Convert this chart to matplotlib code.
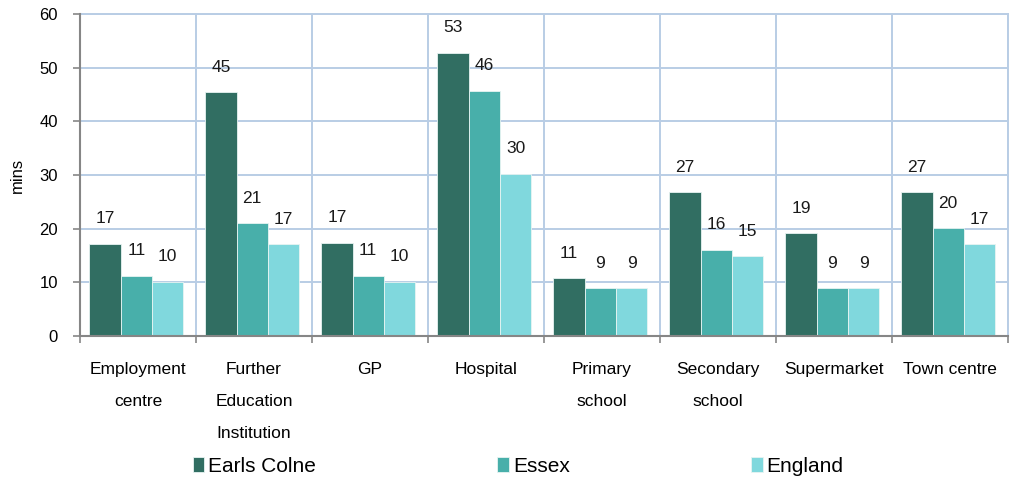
import numpy as np
import matplotlib.pyplot as plt

categories = ["Employment\ncentre", "Further\nEducation\nInstitution", "GP", "Hospital",
              "Primary\nschool", "Secondary\nschool", "Supermarket", "Town centre"]
earls_colne = [17.2, 45.4, 17.4, 52.8, 10.8, 26.8, 19.1, 26.8]
essex = [11.2, 21.0, 11.2, 45.7, 8.9, 16.1, 8.9, 20.1]
england = [10.1, 17.1, 10.1, 30.2, 8.9, 14.9, 8.9, 17.1]
series_names = ["Earls Colne", "Essex", "England"]
colors = ["#316E62", "#48AFAA", "#80D8DD"]

grid_color = "#B9CDE5"
axis_color = "#868686"

plt.rcParams['font.family'] = ['Liberation Sans', 'DejaVu Sans']

fig = plt.figure(figsize=(10.14, 4.78), dpi=100)
ax = fig.add_axes([0.0789, 0.297, 0.9151, 0.674])

x = np.arange(len(categories))
width = 0.27
bars = []
for i, (vals, name, col) in enumerate(zip([earls_colne, essex, england], series_names, colors)):
    pos = x + (i - 1) * width - 0.015
    b = ax.bar(pos, vals, width, color=col, label=name,
               edgecolor="#E8F4F2", linewidth=0.6, zorder=3)
    bars.append(b)
    for xi, v in zip(pos, vals):
        ax.annotate(f"{v:.0f}", (xi, v), xytext=(0, 18), textcoords="offset points",
                    ha="center", va="center", fontsize=12.5, color="#1a1a1a")

ax.set_xlim(-0.5, len(categories) - 0.5)
ax.set_ylim(0, 60)
ax.set_yticks(range(0, 61, 10))
ax.set_xticks(x)
ax.set_xticklabels(categories, fontsize=12.5, va="top")
for lbl in ax.get_xticklabels():
    lbl.set_linespacing(2.4)
ax.set_xticks(np.arange(-0.5, len(categories)), minor=True)
ax.tick_params(axis="x", which="major", length=0, pad=19)
ax.tick_params(axis="x", which="minor", length=5, color=axis_color, width=1.2, direction="out")
ax.tick_params(axis="y", length=5, color=axis_color, width=1.2, labelsize=12, pad=11)

ax.grid(True, axis="y", color=grid_color, linewidth=1.4, zorder=0)
ax.grid(True, axis="x", which="minor", color=grid_color, linewidth=1.4, zorder=0)
ax.set_axisbelow(True)

for side in ["left", "bottom"]:
    ax.spines[side].set_color(axis_color)
    ax.spines[side].set_linewidth(1.5)
    ax.spines[side].set_zorder(4)
for side in ["top", "right"]:
    ax.spines[side].set_color(grid_color)
    ax.spines[side].set_linewidth(1.4)

ax.set_ylabel("mins", fontsize=12, labelpad=10)

fig.legend(handles=bars, labels=series_names, loc="center", bbox_to_anchor=(0.511, 0.025),
           ncol=3, frameon=False, handlelength=0.55, handleheight=0.7, handletextpad=0.2,
           columnspacing=8.7, fontsize=15)

fig.savefig("out.png", dpi=100)
